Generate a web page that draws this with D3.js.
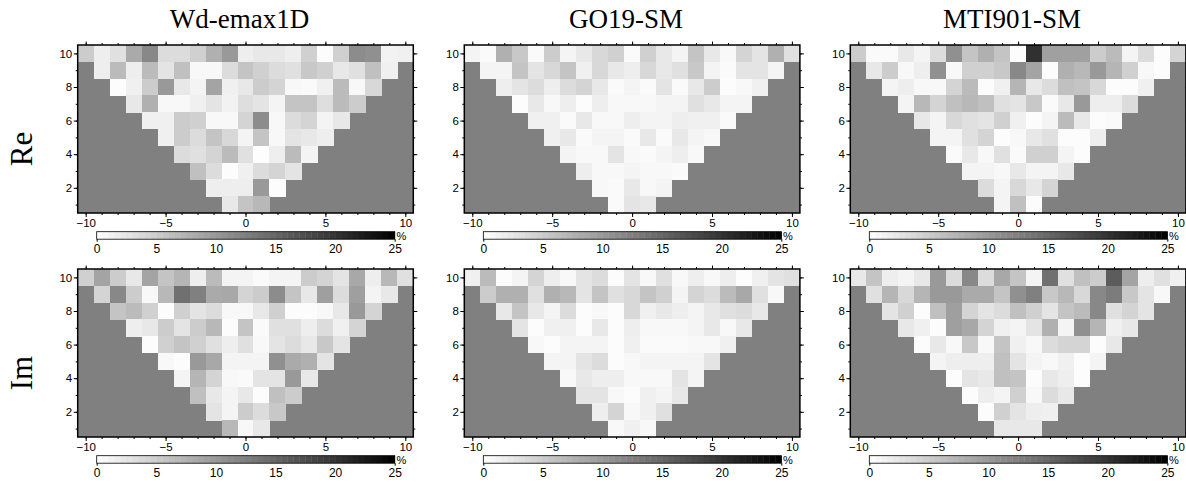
<!DOCTYPE html>
<html>
<head>
<meta charset="utf-8">
<script src="https://cdn.jsdelivr.net/npm/d3@7"></script>
<style>
  body { margin: 0; background: #fff; }
</style>
</head>
<body>
<div id="chart"></div>
<script>
// Model names (columns) and component names (rows)
var models = ["Wd-emax1D", "GO19-SM", "MTI901-SM"];
var parts = ["Re", "Im"];

// Degrees, listed top row first; each row holds orders m = -n .. n
var degrees = [10, 9, 8, 7, 6, 5, 4, 3, 2, 1];

// Tick labels
var xTicks = [-10, -5, 0, 5, 10];
var yTicks = [2, 4, 6, 8, 10];
var cbTicks = [0, 5, 10, 15, 20, 25];

// Relative differences (%), one row per degree
var reWdemax = [
    [5.0, 1.7, 3.0, 8.3, 11.7, 3.4, 3.4, 4.6, 7.7, 10.0, 1.7, 2.3, 2.3, 1.7, 4.6, 0.3, 4.6, 11.3, 10.9, 1.3, 1.5],
    [1.7, 6.7, 1.7, 6.7, 2.6, 6.2, 0.7, 0.7, 3.4, 5.8, 4.6, 3.4, 3.0, 5.4, 4.6, 2.3, 3.0, 6.2, 1.5],
    [0.3, 1.5, 5.0, 10.0, 2.3, 1.1, 8.9, 1.5, 2.3, 5.0, 4.2, 0.7, 0.5, 1.5, 6.7, 0.7, 3.8],
    [2.3, 7.7, 0.7, 0.7, 1.5, 2.6, 1.3, 3.2, 2.6, 1.1, 5.8, 5.8, 3.2, 6.7, 5.0],
    [1.5, 1.5, 5.0, 4.6, 0.7, 0.7, 4.2, 11.3, 0.7, 3.4, 4.2, 1.1, 2.3],
    [1.5, 5.0, 3.4, 5.8, 3.8, 1.1, 5.8, 0.7, 2.6, 2.3, 1.7],
    [3.4, 3.0, 4.2, 6.7, 3.0, 0.2, 1.7, 6.7, 1.1],
    [6.2, 3.4, 0.3, 1.5, 3.4, 4.2, 2.6],
    [1.7, 1.7, 1.7, 10.0, 0.3],
    [2.3, 5.8, 7.0]
];

var reGO19 = [
    [1.1, 0.5, 7.7, 5.4, 0.5, 5.0, 1.1, 2.3, 3.8, 4.6, 0.5, 4.6, 2.3, 1.1, 5.8, 2.3, 0.7, 4.2, 2.6, 7.7, 3.0],
    [1.1, 1.1, 5.8, 2.6, 3.8, 5.8, 1.5, 3.8, 2.3, 1.7, 3.8, 2.3, 3.0, 5.4, 1.1, 0.5, 2.6, 2.6, 1.1],
    [1.7, 2.6, 3.4, 1.7, 3.4, 4.2, 2.3, 0.5, 1.1, 0.5, 2.6, 0.5, 2.3, 5.0, 0.3, 0.7, 1.5],
    [0.3, 2.3, 0.7, 1.7, 0.3, 1.7, 0.7, 0.7, 0.7, 1.1, 1.1, 3.0, 2.3, 1.1, 1.1],
    [1.5, 1.5, 0.5, 2.3, 0.7, 0.7, 1.7, 1.1, 1.1, 1.7, 1.5, 1.5, 0.5],
    [1.5, 2.3, 0.5, 1.1, 1.1, 0.5, 2.3, 0.5, 2.3, 1.1, 0.7],
    [1.1, 0.7, 0.7, 2.6, 0.7, 0.5, 1.1, 1.7, 0.7],
    [1.7, 0.7, 0.7, 1.1, 0.7, 0.7, 0.5],
    [0.7, 0.5, 2.3, 0.7, 1.1],
    [0.5, 2.6, 2.3]
];

var reMTI901 = [
    [5.0, 0.5, 0.5, 2.3, 1.1, 3.4, 10.9, 5.8, 7.7, 5.8, 0.3, 20.3, 9.3, 9.3, 9.3, 5.0, 6.7, 1.1, 3.4, 0.3, 4.2],
    [2.3, 5.0, 0.7, 1.7, 10.9, 0.7, 4.6, 4.6, 5.4, 11.7, 8.9, 0.3, 7.7, 7.0, 10.0, 7.3, 4.6, 0.7, 0.3],
    [1.1, 1.7, 0.7, 0.7, 4.2, 6.7, 0.3, 1.5, 7.3, 2.3, 3.4, 6.2, 5.8, 3.8, 0.3, 0.3, 1.5],
    [1.1, 7.0, 4.2, 6.2, 7.0, 6.2, 3.0, 2.6, 5.4, 0.5, 2.3, 10.0, 1.7, 1.7, 3.4],
    [2.3, 1.1, 3.8, 3.0, 2.6, 4.6, 1.5, 0.3, 1.1, 6.7, 2.3, 0.3, 0.5],
    [1.1, 1.1, 3.0, 4.2, 0.3, 0.7, 2.3, 3.0, 0.3, 0.3, 1.7],
    [0.5, 2.3, 0.7, 3.0, 0.5, 4.6, 4.6, 1.1, 0.3],
    [1.1, 1.1, 0.7, 2.3, 1.1, 1.1, 2.3],
    [3.4, 1.1, 3.8, 2.3, 4.2],
    [1.1, 6.2, 0.3]
];

var imWdemax = [
    [4.6, 8.9, 5.0, 2.3, 8.9, 5.8, 7.3, 1.7, 6.7, 1.1, 1.1, 0.5, 1.1, 1.1, 5.0, 4.2, 2.6, 8.5, 1.7, 7.0, 3.0],
    [4.2, 11.7, 5.0, 0.7, 7.0, 14.0, 12.5, 8.3, 8.5, 4.2, 5.0, 11.3, 5.8, 2.3, 9.4, 3.4, 9.4, 1.1, 2.3],
    [5.8, 6.7, 4.6, 0.3, 4.6, 2.6, 3.4, 0.7, 0.7, 2.3, 4.6, 0.3, 0.3, 0.7, 2.3, 10.0, 4.2],
    [1.7, 2.3, 5.0, 2.6, 5.0, 7.0, 0.3, 5.8, 0.5, 3.0, 3.0, 1.7, 3.4, 1.5, 4.2],
    [0.3, 4.6, 5.8, 4.6, 3.0, 1.7, 3.0, 0.7, 2.6, 3.4, 2.3, 5.4, 2.6],
    [0.7, 0.3, 10.0, 8.5, 1.1, 1.1, 1.1, 10.9, 8.3, 7.7, 2.6],
    [1.1, 7.3, 4.2, 0.7, 0.5, 2.6, 2.6, 10.0, 2.3],
    [6.2, 2.3, 1.1, 2.3, 0.3, 6.2, 5.0],
    [2.6, 1.1, 5.0, 3.4, 5.4],
    [7.0, 0.7, 2.3]
];

var imGO19 = [
    [1.5, 6.7, 0.3, 1.1, 4.2, 1.7, 0.7, 2.6, 3.4, 0.3, 2.6, 0.7, 3.0, 0.7, 1.7, 0.7, 1.7, 0.3, 1.5, 2.6, 3.0],
    [5.0, 7.7, 7.7, 3.0, 7.7, 7.0, 2.6, 5.8, 3.0, 3.8, 5.8, 4.6, 1.1, 4.2, 3.4, 6.7, 8.5, 3.0, 0.7],
    [2.3, 5.8, 2.3, 1.1, 3.4, 0.3, 0.7, 0.3, 3.8, 1.5, 2.3, 1.7, 1.1, 2.3, 3.0, 3.4, 2.3],
    [2.6, 0.3, 1.5, 1.5, 0.3, 2.3, 0.3, 1.7, 0.7, 0.7, 0.7, 1.1, 2.3, 0.7, 2.3],
    [0.7, 0.3, 1.1, 1.1, 1.1, 0.3, 1.5, 0.5, 0.5, 0.5, 0.7, 0.7, 1.5],
    [1.1, 1.1, 2.6, 3.4, 0.3, 0.7, 1.1, 1.1, 1.1, 1.1, 2.6],
    [0.7, 2.3, 1.7, 1.7, 0.7, 0.7, 0.7, 2.6, 1.1],
    [2.6, 2.6, 0.7, 0.3, 1.5, 1.1, 2.3],
    [1.7, 4.2, 0.7, 1.5, 3.0],
    [0.7, 1.5, 0.7]
];

var imMTI901 = [
    [2.3, 5.8, 1.7, 1.1, 2.3, 10.0, 3.4, 11.7, 3.4, 8.5, 5.8, 1.1, 14.0, 3.0, 6.2, 5.0, 16.0, 8.9, 1.7, 3.0, 1.5],
    [3.0, 7.3, 3.8, 7.3, 10.0, 10.0, 8.3, 8.3, 5.8, 10.9, 12.5, 5.4, 7.0, 3.8, 11.7, 12.8, 5.4, 2.6, 0.7],
    [2.6, 4.6, 0.3, 6.2, 9.4, 4.2, 2.6, 3.4, 6.2, 4.6, 2.6, 5.8, 6.7, 11.7, 3.0, 4.2, 2.6],
    [2.3, 1.5, 0.3, 9.4, 8.5, 4.2, 1.5, 1.1, 2.6, 7.7, 1.1, 10.9, 7.3, 1.5, 2.3],
    [0.3, 2.3, 0.7, 5.4, 0.7, 5.8, 1.5, 0.7, 3.4, 4.2, 4.2, 0.3, 2.3],
    [1.1, 1.7, 1.7, 1.7, 6.2, 2.6, 1.1, 0.7, 1.5, 0.3, 1.1],
    [0.3, 2.6, 2.3, 6.2, 5.8, 0.3, 2.3, 1.7, 0.3],
    [0.3, 1.7, 1.1, 4.6, 0.7, 3.4, 2.3],
    [0.3, 4.6, 2.6, 1.7, 1.5],
    [2.3, 2.3, 2.3]
];

var panelData = [
    [reWdemax, reGO19, reMTI901],
    [imWdemax, imGO19, imMTI901]
];

// Layout
var svgWidth = 1186;
var svgHeight = 483;
var pw = 335.6, ph = 168;
var colX = [77.7, 464.3, 850.3];
var rowY = [45, 269];
var cbInset = 19, cbW = 298, cbH = 7.5, cbGap = 18.7;

var sansFont = "'Liberation Sans', Arial, Helvetica, sans-serif";
var serifFont = "'Liberation Serif', 'Times New Roman', serif";

var svg = d3.select("#chart")
    .append("svg")
    .attr("width", svgWidth)
    .attr("height", svgHeight);

// Shared scales
var xScale = d3.scaleLinear().domain([-10.5, 10.5]).range([0, pw]);
var yScale = d3.scaleLinear().domain([0.5, 10.5]).range([ph, 0]);
var color = d3.scaleLinear().domain([0, 25]).range(["#ffffff", "#000000"]).clamp(true);
var cbScale = d3.scaleLinear().domain([0, 25]).range([0, cbW]);

var minorX = d3.range(-10, 11);
var minorY = d3.range(1, 11);

function styleAxis(g, size) {
    g.select(".domain").remove();
    g.attr("font-family", sansFont).attr("font-size", size);
    g.selectAll("line").attr("stroke", "#000");
    g.selectAll("text").attr("fill", "#000");
}

function drawPanel(r, c) {
    var rows = panelData[r][c];
    var g = svg.append("g")
        .attr("transform", `translate(${colX[c]}, ${rowY[r]})`);

    // Masked area outside the triangle
    g.append("rect")
        .attr("width", pw)
        .attr("height", ph)
        .attr("fill", "#808080");

    var cells = [];
    rows.forEach(function(row, i) {
        var n = degrees[i];
        row.forEach(function(v, j) {
            cells.push({ n: n, m: j - n, v: v });
        });
    });

    g.selectAll("rect.cell")
        .data(cells)
        .enter()
        .append("rect")
        .attr("class", "cell")
        .attr("x", d => xScale(d.m - 0.5))
        .attr("y", d => yScale(d.n + 0.5))
        .attr("width", d => xScale(d.m + 0.5) - xScale(d.m - 0.5) + 0.3)
        .attr("height", d => yScale(d.n - 0.5) - yScale(d.n + 0.5) + 0.3)
        .attr("fill", d => color(d.v))
        .attr("shape-rendering", "crispEdges");

    // Minor ticks on all four sides
    g.append("g").attr("transform", `translate(0, ${ph})`)
        .call(d3.axisBottom(xScale).tickValues(minorX).tickSize(2).tickFormat(""))
        .call(a => styleAxis(a, 11.5));
    g.append("g")
        .call(d3.axisTop(xScale).tickValues(minorX).tickSize(2).tickFormat(""))
        .call(a => styleAxis(a, 11.5));
    g.append("g")
        .call(d3.axisLeft(yScale).tickValues(minorY).tickSize(2).tickFormat(""))
        .call(a => styleAxis(a, 11.5));
    g.append("g").attr("transform", `translate(${pw}, 0)`)
        .call(d3.axisRight(yScale).tickValues(minorY).tickSize(2).tickFormat(""))
        .call(a => styleAxis(a, 11.5));

    // Major ticks with labels
    g.append("g").attr("transform", `translate(0, ${ph})`)
        .call(d3.axisBottom(xScale).tickValues(xTicks).tickSize(4).tickPadding(2))
        .call(a => styleAxis(a, 11.5));
    g.append("g")
        .call(d3.axisTop(xScale).tickValues(xTicks).tickSize(3.5).tickFormat(""))
        .call(a => styleAxis(a, 11.5));
    g.append("g")
        .call(d3.axisLeft(yScale).tickValues(yTicks).tickSize(4).tickPadding(1.5))
        .call(a => styleAxis(a, 11.5));
    g.append("g").attr("transform", `translate(${pw}, 0)`)
        .call(d3.axisRight(yScale).tickValues(yTicks).tickSize(4).tickFormat(""))
        .call(a => styleAxis(a, 11.5));

    // Frame
    g.append("rect")
        .attr("width", pw)
        .attr("height", ph)
        .attr("fill", "none")
        .attr("stroke", "#000")
        .attr("stroke-width", 1.5);

    // Colour bar
    var cb = g.append("g")
        .attr("transform", `translate(${cbInset}, ${ph + cbGap})`);

    cb.selectAll("rect.step")
        .data(d3.range(0, 25, 0.5))
        .enter()
        .append("rect")
        .attr("class", "step")
        .attr("x", d => cbScale(d))
        .attr("width", cbScale(0.5) + 0.4)
        .attr("height", cbH)
        .attr("fill", d => color(d + 0.25));

    cb.append("rect")
        .attr("width", cbW)
        .attr("height", cbH)
        .attr("fill", "none")
        .attr("stroke", "#000")
        .attr("stroke-width", 0.8);

    cb.append("g").attr("transform", `translate(0, ${cbH})`)
        .call(d3.axisBottom(cbScale).tickValues(cbTicks).tickSize(2.5).tickPadding(2.3))
        .call(a => styleAxis(a, 12))
        .call(a => a.selectAll(".tick line").filter(d => d !== 0 && d !== 25).remove());

    cb.append("text")
        .attr("x", cbW + 1.7)
        .attr("y", cbH + 0.8)
        .attr("font-family", sansFont)
        .attr("font-size", 11)
        .text("%");
}

for (var r = 0; r < 2; r++) {
    for (var c = 0; c < 3; c++) {
        drawPanel(r, c);
    }
}

// Column titles
svg.selectAll("text.title")
    .data(models)
    .enter()
    .append("text")
    .attr("class", "title")
    .attr("x", (d, i) => colX[i] + pw / 2 - 6)
    .attr("y", 28)
    .attr("text-anchor", "middle")
    .attr("font-family", serifFont)
    .attr("font-size", 27)
    .text(d => d);

// Row labels
svg.selectAll("text.rowlabel")
    .data(parts)
    .enter()
    .append("text")
    .attr("class", "rowlabel")
    .attr("transform", (d, i) => `translate(32, ${rowY[i] + ph / 2 + 20}) rotate(-90)`)
    .attr("text-anchor", "middle")
    .attr("font-family", serifFont)
    .attr("font-size", 31)
    .text(d => d);
</script>
</body>
</html>
